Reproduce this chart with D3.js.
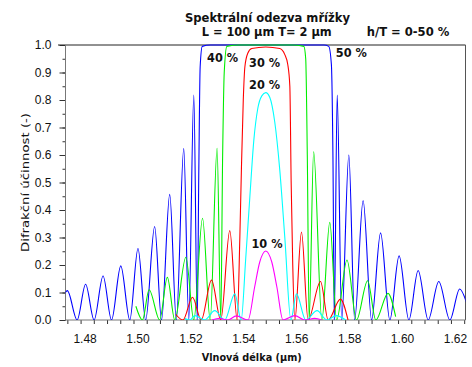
<!DOCTYPE html>
<html><head><meta charset="utf-8">
<script src="https://cdn.jsdelivr.net/npm/d3@7"></script>
<style>body{margin:0;background:#fff}</style>
</head><body><svg id="c" width="472" height="367"></svg>
<script>
// ---- data ----
const xTickLabels = [1.48, 1.50, 1.52, 1.54, 1.56, 1.58, 1.60, 1.62];
const yTickLabels = [0, 0.1, 0.2, 0.3, 0.4, 0.5, 0.6, 0.7, 0.8, 0.9, 1.0];
const seriesLabels = ["50 %", "40 %", "30 %", "20 %", "10 %"];
const seriesColors = ["#0000ff", "#00ee00", "#ff0000", "#00ffff", "#ff00ff"];

// h/T = 50 %
const r50 = [[1.4736,0.09],[1.4750,0.107],[1.4787,0],[1.4819,0.13],[1.4851,0],[1.4885,0.16],[1.4917,0],[1.4952,0.197],[1.4986,0],[1.5017,0.26],[1.5046,0],[1.5080,0.34],[1.5106,0],[1.5137,0.457],[1.5162,0],[1.5190,0.623],[1.5209,0],[1.5228,0.818],[1.5241,0],[1.5247,0.55],[1.5252,0.92],[1.5260,0.995],[1.5290,1.0],[1.5500,1.0],[1.5720,1.0],[1.5738,0.995],[1.5748,0.93],[1.5754,0.59],[1.5759,0],[1.5770,0.818],[1.5787,0],[1.5814,0.60],[1.5836,0],[1.5868,0.434],[1.5900,0],[1.5934,0.317],[1.5969,0],[1.6004,0.233],[1.6041,0],[1.6076,0.18],[1.6114,0],[1.6154,0.14],[1.6196,0],[1.6233,0.113],[1.6260,0.06]];
// h/T = 40 %
const r40 = [[1.5009,0.05],[1.5034,0],[1.5059,0.11],[1.5099,0],[1.5128,0.155],[1.5156,0],[1.5198,0.228],[1.5228,0],[1.5261,0.37],[1.5290,0],[1.5316,0.624],[1.5330,0],[1.5337,0.6],[1.5343,0.9],[1.5353,0.995],[1.5400,1.0],[1.5600,1.0],[1.5644,0.995],[1.5651,0.95],[1.5657,0.6],[1.5664,0],[1.5681,0.612],[1.5712,0],[1.5742,0.355],[1.5768,0],[1.5807,0.218],[1.5843,0],[1.5885,0.143],[1.5916,0],[1.5962,0.097],[1.5991,0.012]];
// h/T = 30 %
const r30 = [[1.5160,0.02],[1.5187,0],[1.5223,0.083],[1.5256,0],[1.5295,0.145],[1.5330,0],[1.5364,0.325],[1.5392,0],[1.5402,0.3],[1.5408,0.55],[1.5415,0.8],[1.5421,0.92],[1.5432,0.97],[1.5447,0.987],[1.5500,0.993],[1.5553,0.987],[1.5572,0.965],[1.5583,0.93],[1.5591,0.85],[1.5596,0.5],[1.5602,0.2],[1.5610,0],[1.5635,0.32],[1.5660,0],[1.5707,0.14],[1.5736,0],[1.5782,0.076],[1.5811,0]];
// h/T = 20 %
const r20 = [[1.5194,0.005],[1.5213,0],[1.5232,0.016],[1.5269,0],[1.5307,0.034],[1.5345,0],[1.5383,0.095],[1.5407,0],[1.5424,0.22],[1.5440,0.45],[1.5455,0.655],[1.5470,0.77],[1.5485,0.815],[1.5500,0.827],[1.5515,0.81],[1.5534,0.72],[1.5553,0.545],[1.5572,0.3],[1.5595,0],[1.5616,0.095],[1.5651,0],[1.5694,0.034],[1.5731,0],[1.5767,0.016],[1.5802,0]];
// h/T = 10 %
const r10 = [[1.5296,0],[1.5326,0.006],[1.5356,0],[1.5389,0.015],[1.5433,0],[1.5458,0.12],[1.5477,0.21],[1.5500,0.251],[1.5523,0.21],[1.5542,0.12],[1.5565,0],[1.5610,0.016],[1.5647,0],[1.5685,0.006],[1.5712,0]];

const series = [r50, r40, r30, r20, r10];
const labelPos = [[1.5765,0.956],[1.5278,0.938],[1.5437,0.919],[1.5437,0.840],[1.5446,0.262]];

// ---- layout ----
const L = 65.5, R = 465.5, T = 45, B = 320;
const svg = d3.select("#c");
const x = d3.scaleLinear().domain([1.4743, 1.6255]).range([L, R]);
const y = d3.scaleLinear().domain([0, 1]).range([B, T]);

svg.append("defs").append("clipPath").attr("id","clip")
  .append("rect").attr("x", L).attr("y", T - 1).attr("width", R - L).attr("height", B - T + 1);

// Titles
const title = svg.append("g").attr("font-family","DejaVu Sans, Verdana, sans-serif").attr("font-weight","bold").attr("fill","#111");
title.append("text").attr("x",267.5).attr("y",21.5).attr("text-anchor","middle").attr("font-size",12)
  .attr("textLength",165).attr("lengthAdjust","spacingAndGlyphs").text("Spektrální odezva mřížky");
title.append("text").attr("x",266.7).attr("y",36).attr("text-anchor","middle").attr("font-size",12)
  .attr("textLength",130).attr("lengthAdjust","spacingAndGlyphs").text("L = 100 \u00b5m  T= 2 \u00b5m");
title.append("text").attr("x",366.7).attr("y",36).attr("font-size",12)
  .attr("textLength",82.6).attr("lengthAdjust","spacingAndGlyphs").text("h/T = 0-50 %");

// Axes
const xAxisMinor = d3.axisBottom(x).tickValues(d3.range(1.475, 1.6251, 0.005)).tickSize(4).tickFormat("");
const gx = svg.append("g").attr("transform",`translate(0,${B})`).call(xAxisMinor);
gx.select(".domain").remove();
gx.selectAll("line").attr("stroke","#333");
const gxl = svg.append("g").attr("transform",`translate(0,${B})`)
  .call(d3.axisBottom(x).tickValues(xTickLabels).tickSize(0).tickPadding(14).tickFormat(d3.format(".2f")));
gxl.select(".domain").remove();
gxl.selectAll("text").attr("font-family","Liberation Sans, Arial, sans-serif").attr("font-size",12).attr("fill","#111").attr("dx",4);

const yAxisMinor = d3.axisLeft(y).tickValues(d3.range(0, 1.0001, 0.05)).tickSize(3).tickFormat("");
const gy = svg.append("g").attr("transform",`translate(${L},0)`).call(yAxisMinor);
gy.select(".domain").remove();
gy.selectAll("line").attr("stroke","#333");
const gyl = svg.append("g").attr("transform",`translate(${L},0)`)
  .call(d3.axisLeft(y).tickValues(yTickLabels).tickSize(6).tickPadding(8).tickFormat(d3.format(".1f")));
gyl.select(".domain").remove();
gyl.selectAll("line").attr("stroke","#333");
gyl.selectAll("text").attr("font-family","Liberation Sans, Arial, sans-serif").attr("font-size",12).attr("fill","#111");

// Frame
svg.append("line").attr("x1",58).attr("x2",R).attr("y1",T).attr("y2",T).attr("stroke","#222");
svg.append("line").attr("x1",R).attr("x2",R).attr("y1",T).attr("y2",B).attr("stroke","#555");
svg.append("line").attr("x1",L).attr("x2",L).attr("y1",T).attr("y2",B).attr("stroke","#777");
svg.append("line").attr("x1",L).attr("x2",R).attr("y1",B).attr("y2",B).attr("stroke","#777");

// Axis titles
svg.append("text").attr("x",251.7).attr("y",361).attr("text-anchor","middle")
  .attr("font-family","DejaVu Sans, Verdana, sans-serif").attr("font-weight","bold").attr("font-size",11).attr("fill","#111")
  .attr("textLength",100).attr("lengthAdjust","spacingAndGlyphs").text("Vlnová délka  (\u00b5m)");
svg.append("text").attr("transform","translate(29,182.5) rotate(-90)").attr("text-anchor","middle")
  .attr("font-family","DejaVu Sans, Verdana, sans-serif").attr("font-size",11).attr("fill","#111")
  .attr("textLength",139).attr("lengthAdjust","spacingAndGlyphs").text("Difrakční účinnost (-)");

// Curves
const line = d3.line().x(d => x(d[0])).y(d => y(d[1])).curve(d3.curveMonotoneX);
const gc = svg.append("g").attr("clip-path","url(#clip)");
series.forEach((s, i) => {
  gc.append("path").datum(s).attr("d", line).attr("fill","none")
    .attr("stroke", seriesColors[i]).attr("stroke-width",1.1);
});

// Curve labels
svg.append("g").selectAll("text").data(seriesLabels).join("text")
  .attr("x",(d,i)=>x(labelPos[i][0])).attr("y",(d,i)=>y(labelPos[i][1]))
  .attr("font-family","DejaVu Sans, Verdana, sans-serif").attr("font-weight","bold").attr("font-size",12).attr("fill","#111")
  .attr("textLength",31).attr("lengthAdjust","spacingAndGlyphs")
  .text(d=>d);
</script>
</body></html>
